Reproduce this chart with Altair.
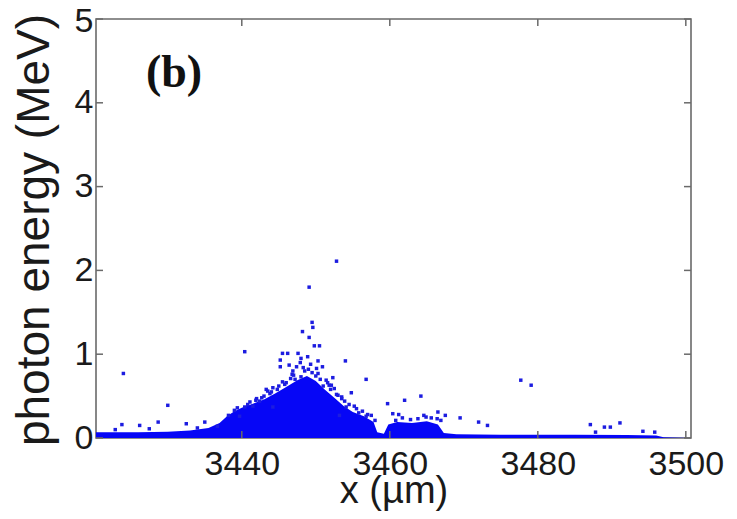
import altair as alt
import pandas as pd

# ---- data ----
# upper edge of the dense (solid) photon cloud
ENV_X = [3420.3, 3426.0, 3430.0, 3433.0, 3435.5, 3437.0, 3438.0, 3439.0, 3440.0, 3441.5,
         3443.0, 3444.5, 3446.0, 3447.5, 3448.8, 3450.0, 3451.2, 3452.5, 3453.8, 3455.0,
         3456.5, 3457.8, 3458.3, 3459.2, 3459.8, 3461.0, 3463.0, 3465.0, 3466.5, 3467.3,
         3469.0, 3475.0, 3485.0, 3492.0, 3496.0, 3497.0, 3500.7]
ENV_Y = [0.07, 0.07, 0.075, 0.09, 0.12, 0.18, 0.26, 0.32, 0.36, 0.41,
         0.46, 0.53, 0.61, 0.69, 0.74, 0.68, 0.58, 0.48, 0.38, 0.31,
         0.26, 0.19, 0.07, 0.05, 0.16, 0.19, 0.18, 0.20, 0.16, 0.06,
         0.045, 0.04, 0.04, 0.035, 0.03, 0.01, 0.0]

# individual scattered photons
DOT_X = [3424.0, 3430.0, 3440.4, 3449.1, 3452.8, 3477.7, 3479.1, 3456.8, 3454.0, 3459.7,
         3462.0, 3464.2, 3466.5, 3469.5, 3472.0, 3473.2, 3487.1, 3489.0, 3489.8, 3491.1,
         3494.2, 3495.8, 3487.8, 3423.8, 3426.2, 3428.7, 3432.5, 3435.0, 3436.7, 3422.9,
         3449.5, 3449.6, 3448.2, 3449.1, 3449.8, 3450.5, 3445.5, 3446.2, 3447.6, 3448.0,
         3448.9, 3445.2, 3450.3, 3445.2, 3446.4, 3447.4, 3449.0, 3450.9, 3446.8, 3448.0,
         3450.3, 3451.4, 3452.3, 3445.5, 3444.2, 3443.3, 3452.5, 3453.0, 3453.5, 3442.0,
         3441.1, 3441.5, 3440.4, 3444.2, 3454.1, 3439.7, 3453.2, 3454.8, 3453.5, 3456.3,
         3457.5, 3460.4, 3461.2, 3464.6, 3467.5, 3466.4, 3447.0, 3448.5, 3449.5, 3450.0,
         3446.0, 3451.8, 3443.0, 3444.8, 3442.7, 3452.8, 3455.5, 3456.8, 3439.0, 3438.2,
         3447.2, 3450.6, 3451.0, 3446.6, 3444.0, 3445.8, 3452.0, 3454.5, 3455.2, 3457.0,
         3462.8, 3465.6, 3460.8, 3463.8, 3442.4, 3440.8, 3447.9, 3449.3, 3443.8, 3445.0,
         3446.9, 3448.3, 3450.1, 3451.6, 3453.9, 3455.8, 3441.9, 3439.4, 3458.0, 3461.7,
         3464.9, 3466.9, 3434.0, 3427.5, 3443.5, 3452.1]
DOT_Y = [0.77, 0.39, 1.03, 1.80, 2.11, 0.69, 0.63, 0.70, 0.92, 0.41,
         0.45, 0.50, 0.31, 0.24, 0.19, 0.15, 0.16, 0.13, 0.13, 0.18,
         0.08, 0.07, 0.07, 0.16, 0.15, 0.19, 0.17, 0.19, 0.14, 0.10,
         1.38, 1.32, 1.27, 1.20, 1.10, 1.10, 1.01, 1.01, 1.01, 0.95,
         0.97, 0.93, 0.92, 0.85, 0.87, 0.85, 0.82, 0.85, 0.76, 0.73,
         0.77, 0.69, 0.72, 0.67, 0.60, 0.58, 0.59, 0.51, 0.49, 0.47,
         0.43, 0.38, 0.37, 0.37, 0.37, 0.26, 0.27, 0.54, 0.47, 0.32,
         0.27, 0.29, 0.28, 0.27, 0.27, 0.23, 0.75, 0.80, 0.78, 0.74,
         0.66, 0.63, 0.50, 0.58, 0.48, 0.52, 0.35, 0.26, 0.33, 0.27,
         0.70, 0.70, 0.62, 0.71, 0.55, 0.64, 0.58, 0.40, 0.38, 0.28,
         0.22, 0.24, 0.21, 0.23, 0.44, 0.40, 0.90, 0.88, 0.53, 0.62,
         0.80, 0.84, 0.83, 0.66, 0.44, 0.30, 0.45, 0.36, 0.21, 0.24,
         0.25, 0.21, 0.12, 0.11, 0.56, 0.63]

X_TICKS = [3440, 3460, 3480, 3500]
Y_TICKS = [0, 1, 2, 3, 4, 5]
X_DOMAIN = [3420.3, 3500.7]
Y_DOMAIN = [0, 5]
PANEL = ["(b)"]

W, H = 595, 419
FRAME = "#6a6a6a"
TXT = "#1a1a1a"
BLUE = "#0606f6"
DOT = "#1c1ce0"

env = pd.DataFrame({"x": ENV_X, "y": ENV_Y})
dots = pd.DataFrame({"x": DOT_X, "y": DOT_Y})
xt = pd.DataFrame({"x": X_TICKS})
yt = pd.DataFrame({"y": Y_TICKS})

xs = alt.Scale(domain=X_DOMAIN, nice=False, zero=False)
ys = alt.Scale(domain=Y_DOMAIN, nice=False)

x_axis = alt.Axis(values=X_TICKS, format="d", title="x (µm)", labelPadding=9,
                  labelFlush=False, labelOverlap=False, titleFontSize=38,
                  titleY=53, titleBaseline="middle")
y_axis = alt.Axis(values=Y_TICKS, format="d", title="photon energy (MeV)", labelPadding=3,
                  labelFlush=False, labelOverlap=False, titleFontSize=46,
                  titleX=-62, titleY=H / 2 + 1, titleAngle=270, titleAlign="center",
                  titleBaseline="middle",
                  labelOffset={"condition": {"test": "datum.value == 5", "value": 2},
                               "value": 0})

X = alt.X("x:Q", scale=xs, axis=x_axis)
Y = alt.Y("y:Q", scale=ys, axis=y_axis)

area = alt.Chart(env).mark_area(color=BLUE, opacity=1, clip=True).encode(x=X, y=Y)

points = alt.Chart(dots).mark_square(size=12, color=DOT, opacity=1).encode(x=X, y=Y)

tick_l = alt.Chart(yt).mark_rule(color=FRAME, strokeWidth=1.5).encode(
    y=Y, x=alt.value(0), x2=alt.value(7))
tick_r = alt.Chart(yt).mark_rule(color=FRAME, strokeWidth=1.5).encode(
    y=Y, x=alt.value(W - 7), x2=alt.value(W))
tick_t = alt.Chart(xt).mark_rule(color=FRAME, strokeWidth=1.5).encode(
    x=X, y=alt.value(0), y2=alt.value(7))
tick_b = alt.Chart(xt).mark_rule(color=FRAME, strokeWidth=1.5).encode(
    x=X, y=alt.value(H - 7), y2=alt.value(H))

label = alt.Chart(pd.DataFrame({"t": PANEL})).mark_text(
    font="Liberation Serif", fontWeight="bold", fontSize=46, color="#111111",
    align="center", baseline="middle").encode(
    text="t:N", x=alt.value(78), y=alt.value(54))

chart = alt.layer(area, points, tick_l, tick_r, tick_t, tick_b, label).properties(
    width=W, height=H,
    autosize=alt.AutoSizeParams(type="none"),
    padding={"left": 88, "top": 11, "right": 36, "bottom": 73},
    background="white",
).configure_view(
    stroke=FRAME, strokeWidth=1.6
).configure_axis(
    domain=False, ticks=False, grid=False,
    labelFont="Liberation Sans", labelFontSize=34, labelColor=TXT,
    titleFont="Liberation Sans", titleColor=TXT, titleFontWeight="normal",
)

chart.save("out.html", embed_options={"renderer": "svg", "actions": False})
